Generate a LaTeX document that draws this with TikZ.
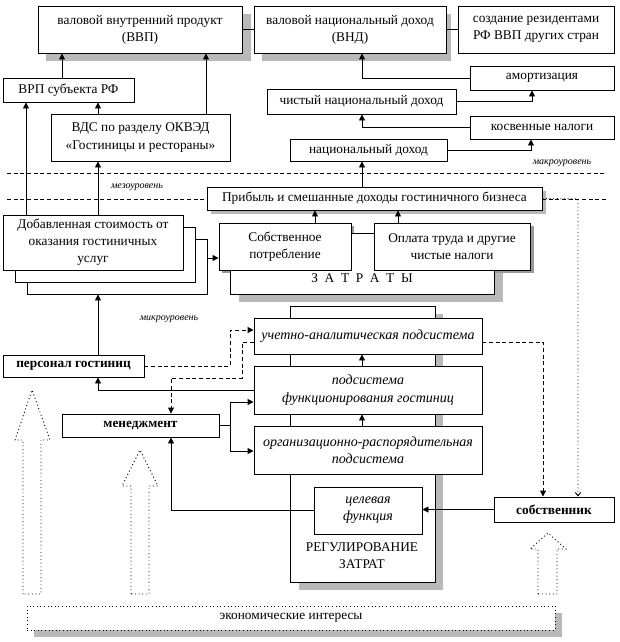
\documentclass[tikz,border=0pt]{standalone}
\usepackage{fontspec}
\setmainfont{Liberation Serif}
\usetikzlibrary{arrows.meta}
\newcommand\bx[7]{\node[#2, minimum width={(#5-#3)*0.75pt}, minimum height={(#6-#4)*0.75pt}] (#1) at ({(#3+#5)/2},{(#4+#6)/2}) {#7};}
\begin{document}
\begin{tikzpicture}[x=0.75pt,y=-0.75pt,line width=0.7pt,
  box/.style={draw, fill=white, inner sep=0pt, align=center, font=\fontsize{10}{12.8}\selectfont},
  ibox/.style={box, font=\fontsize{10.5}{13}\selectfont\itshape},
  bbox/.style={box, font=\fontsize{10}{12.8}\selectfont\bfseries},
  shd/.style={fill=gray!55},
  dshd/.style={fill=gray!80},
  arr/.style={-{Triangle[length=4.5pt,width=4.5pt]}},
  oarr/.style={-{Straight Barb[length=2.5pt,width=4pt]}},
  dsh/.style={dash pattern=on 3pt off 2pt},
  dot/.style={dotted},
  lvl/.style={font=\fontsize{7.5}{9}\selectfont\itshape},
  plain/.style={inner sep=0pt, align=center, font=\fontsize{10}{12.8}\selectfont}]
\useasboundingbox (0,0) rectangle (620,642);
% shadows
\fill[shd] (46,14) rectangle (251,61);
\fill[shd] (262,14) rectangle (451,61);
\fill[shd] (211,191) rectangle (546,214);
\fill[shd] (239,241) rectangle (503,302);
\fill[shd] (299,314) rectangle (443,590);
\fill[shd] (34,613) rectangle (562,637);
\fill[dshd] (222,226) rectangle (354,273);
\fill[dshd] (377,226) rectangle (534,273);
% level lines
\draw[dsh] (7,173) -- (607,173);
% big background boxes
\bx{zatr}{box}{230}{233}{494}{294}{}
\node[plain] (zatrt) at (362,278) {З\ \ А\ \ Т\ \ Р\ \ А\ \ Т\ \ Ы};
\bx{reg}{box}{290}{306}{435}{582}{}
\node[plain] (regt) at (362,556) {РЕГУЛИРОВАНИЕ\\ЗАТРАТ};
% top
\bx{vvp}{box}{38}{6}{242}{53}{валовой внутренний продукт\\(ВВП)}
\bx{vnd}{box}{254}{6}{446}{53}{валовой национальный доход\\(ВНД)}
\bx{sozd}{box}{458}{6}{614}{53}{создание резидентами\\РФ ВВП других стран}
\bx{vrp}{box}{3}{78}{134}{102}{ВРП субъекта РФ}
\bx{amort}{box}{470}{66}{614}{90}{амортизация}
\bx{cnd}{box}{267}{89}{456}{114}{чистый национальный доход}
\bx{vds}{box}{51}{114}{230}{161}{ВДС по разделу ОКВЭД\\«Гостиницы и рестораны»}
\bx{kosv}{box}{470}{116}{614}{139}{косвенные налоги}
\bx{nd}{box}{290}{139}{447}{161}{национальный доход}
\draw[dsh] (7,199) -- (207,199);
\draw[dsh] (542,199) -- (607,199);
\bx{prib}{box}{207}{187}{542}{210}{Прибыль и смешанные доходы гостиничного бизнеса}
% stacked
\bx{dob3}{box}{27}{239}{207}{294}{}
\bx{dob2}{box}{15}{227}{195}{282}{}
\bx{dob}{box}{3}{215}{183}{270}{Добавленная стоимость от\\оказания гостиничных\\услуг}
\bx{sob}{box}{219}{223}{351}{270}{Собственное\\потребление}
\bx{opl}{box}{374}{223}{530}{270}{Оплата труда и другие\\чистые налоги}
% micro
\bx{uch}{ibox}{254}{318}{482}{354}{учетно-аналитическая подсистема}
\bx{func}{ibox}{254}{366}{482}{414}{подсистема\\функционирования гостиниц}
\bx{pers}{bbox}{3}{355}{144}{377}{персонал гостиниц}
\bx{men}{bbox}{62}{414}{219}{437}{менеджмент}
\bx{org}{ibox}{254}{426}{482}{474}{организационно-распорядительная\\подсистема}
\bx{cel}{ibox}{314}{487}{422}{534}{целевая\\функция}
\bx{sobst}{bbox}{494}{497}{614}{522}{собственник}
\bx{econ}{box,dot}{27}{606}{555}{630}{экономические интересы}
% level labels
\node[lvl] (lmacro) at (562,163) {макроуровень};
\node[lvl] (lmeso) at (137,187) {мезоуровень};
\node[lvl] (lmicro) at (169,319) {микроуровень};
% connectors top
\draw (vvp.east) -- (vnd.west);
\draw (vnd.east) -- (sozd.west);
\draw[arr] (vrp.north -| 62,0) -- (vvp.south -| 62,0);
\draw[arr] (vds.north -| 206,0) -- (vvp.south -| 206,0);
\draw[arr] (vds.north -| 98,0) -- (vrp.south -| 98,0);
\draw[arr] (dob.north -| 26,0) -- (vrp.south -| 26,0);
\draw[arr] (dob.north -| 98,0) -- (vds.south -| 98,0);
\draw[arr] (amort.west) -| (vnd.south -| 362,0);
\draw[arr] (cnd.east) -| (amort.south -| 532,0);
\draw[arr] (kosv.west) -| (cnd.south -| 362,0);
\draw[arr] (nd.east) -| (kosv.south -| 531,0);
\draw[arr] (prib.north -| 362,0) -- (nd.south -| 362,0);
\draw[arr] (sob.north -| 315,0) -- (prib.south -| 315,0);
\draw[arr] (opl.north -| 398,0) -- (prib.south -| 398,0);
\draw[arr] (dob3.east |- 0,258) -- (sob.west |- 0,258);
\draw[arr] (pers.north -| 98,0) -- (dob3.south -| 98,0);
% micro connectors
\draw[arr] (func.north -| 362,0) -- (uch.south -| 362,0);
\draw[arr] (org.north -| 362,0) -- (func.south -| 362,0);
\draw[arr] (func.west |- 0,390) -| (pers.south -| 98,0);
\draw[arr] (men.east) -| (230,402) -- (func.west |- 0,402);
\draw[arr] (men.east) -| (230,451) -- (org.west |- 0,451);
\draw[arr,dsh] (pers.east) -| (230,330) -- (uch.west |- 0,330);
\draw[arr,dsh] (uch.west |- 0,342) -| (242,378) -| (men.north -| 171,0);
\draw[arr,dsh] (uch.east |- 0,342) -| (sobst.north -| 543,0);
\draw[oarr,dot] (prib.east) -- (578,199) -- (sobst.north -| 578,0);
\draw[arr] (sobst.west) -- (cel.east |- sobst.west);
\draw[arr] (cel.west) -| (men.south -| 171,0);
% hollow dotted arrows
\draw[dot] (23,594) -- (23,440) -- (15,440) -- (32,390) -- (50,440) -- (41,440) -- (41,594) -- cycle;
\draw[dot] (131,594) -- (131,486) -- (122,486) -- (140,450) -- (158,486) -- (149,486) -- (149,594) -- cycle;
\draw[dot] (538,594) -- (538,549) -- (530,549) -- (548,533) -- (566,549) -- (557,549) -- (557,594) -- cycle;
\end{tikzpicture}
\end{document}
